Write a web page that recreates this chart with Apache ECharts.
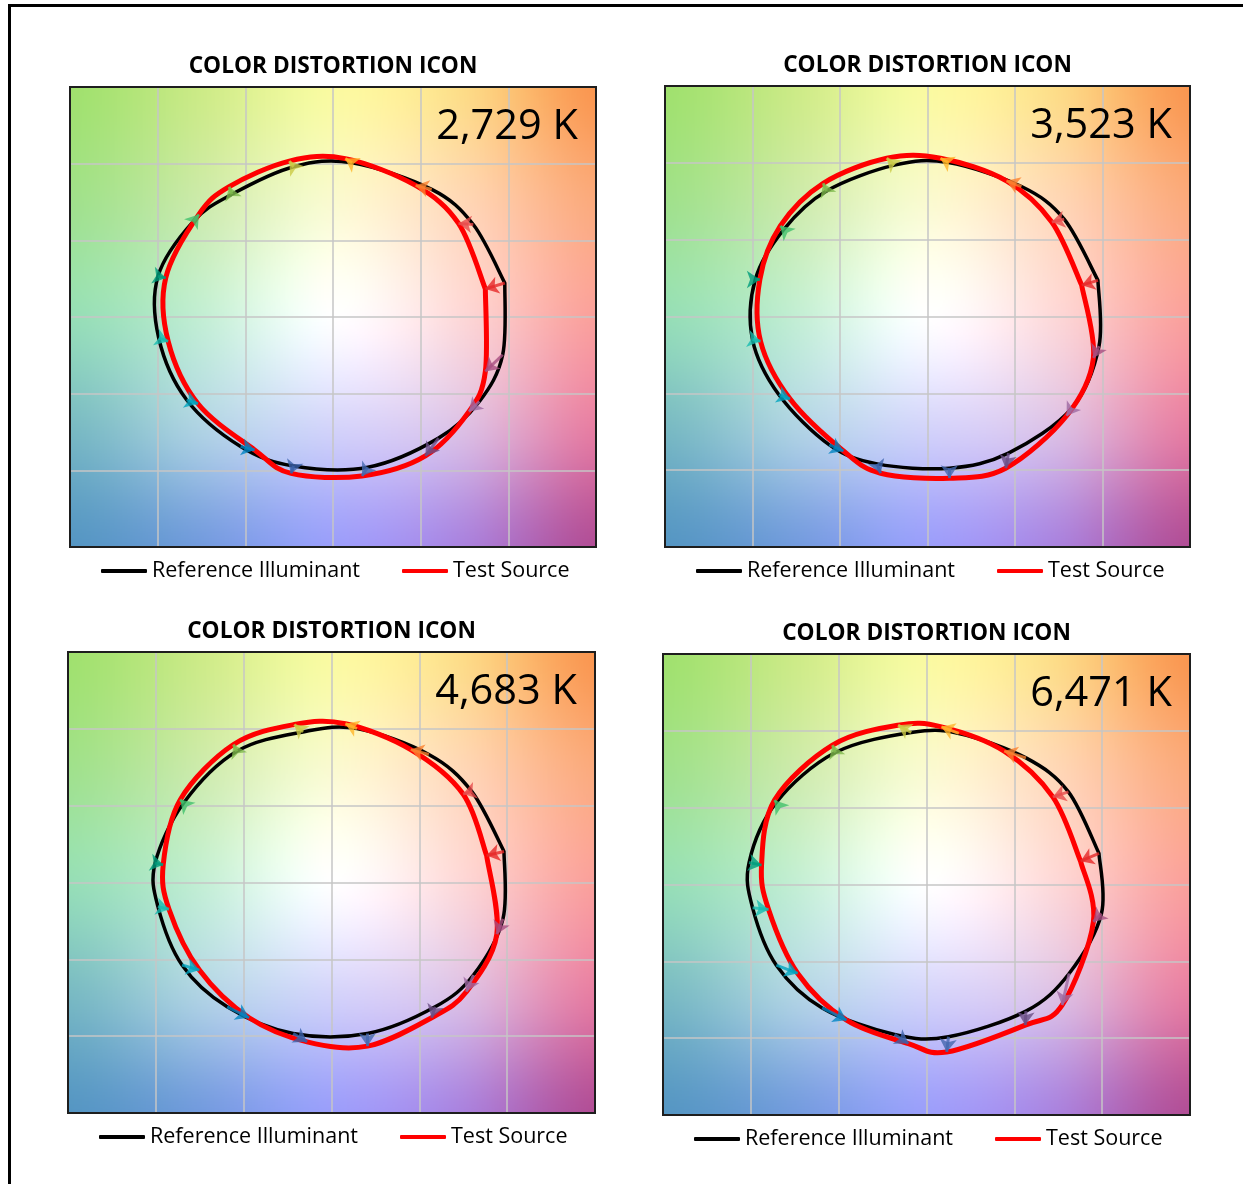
<!DOCTYPE html>
<html>
<head>
<meta charset="utf-8">
<title>Color Distortion Icons</title>
<script src="https://cdn.jsdelivr.net/npm/echarts@6/dist/echarts.min.js"></script>
<style>
  html, body { margin: 0; padding: 0; background: #ffffff; }
  #chart { width: 1243px; height: 1184px; }
</style>
</head>
<body>
<div id="chart"></div>
<script>
// Correlated colour temperature of each test source
const cctLabels = ['2,729 K', '3,523 K', '4,683 K', '6,471 K'];

// Colours of the 16 hue bins (bin 1 starts at hue angle 0, counter-clockwise)
const binColors = [
  '#e62828', '#e74b4b', '#fb812e', '#ffb529', '#cbca46', '#7eb94c', '#41c06d', '#009c7c',
  '#16bcb0', '#00a4bf', '#0085c3', '#3b62aa', '#4568ae', '#6a4e85', '#9d69a1', '#a74f81'
];

// Normalised average chromaticity (a', b') per hue bin, reference illuminant / test source
const ref2729 = [
  [0.980, 0.222], [0.800, 0.603], [0.563, 0.832], [0.109, 1.006], [-0.225, 0.980], [-0.577, 0.800],
  [-0.795, 0.625], [-0.998, 0.266], [-0.994, -0.137], [-0.835, -0.540], [-0.527, -0.845], [-0.225, -0.972],
  [0.199, -0.980], [0.602, -0.790], [0.835, -0.551], [0.968, -0.246]
];
const test2729 = [
  [0.869, 0.183], [0.716, 0.610], [0.471, 0.858], [0.070, 1.033], [-0.249, 1.017], [-0.592, 0.850],
  [-0.765, 0.669], [-0.954, 0.255], [-0.940, -0.159], [-0.770, -0.566], [-0.447, -0.867], [-0.239, -1.020],
  [0.165, -1.037], [0.527, -0.906], [0.775, -0.617], [0.869, -0.355]
];

const ref3523 = [
  [0.974, 0.235], [0.781, 0.633], [0.537, 0.846], [0.119, 1.002], [-0.189, 0.985], [-0.577, 0.817],
  [-0.821, 0.567], [-0.984, 0.241], [-1.000, -0.150], [-0.849, -0.509], [-0.561, -0.835], [-0.288, -0.959],
  [0.125, -0.987], [0.463, -0.889], [0.825, -0.596], [0.980, -0.193]
];
const test3523 = [
  [0.881, 0.204], [0.710, 0.615], [0.451, 0.883], [0.074, 1.030], [-0.233, 1.030], [-0.596, 0.867],
  [-0.841, 0.589], [-0.958, 0.241], [-0.954, -0.161], [-0.785, -0.537], [-0.480, -0.875], [-0.268, -1.020],
  [0.125, -1.052], [0.447, -0.987], [0.795, -0.646], [0.948, -0.270]
];

const ref4683 = [
  [0.982, 0.202], [0.798, 0.593], [0.554, 0.833], [0.145, 1.002], [-0.162, 0.980], [-0.539, 0.854],
  [-0.842, 0.517], [-1.004, 0.126], [-0.988, -0.157], [-0.851, -0.537], [-0.594, -0.809], [-0.218, -0.983],
  [0.204, -0.983], [0.590, -0.809], [0.808, -0.602], [0.976, -0.237]
];
const test4683 = [
  [0.883, 0.176], [0.749, 0.576], [0.451, 0.865], [0.079, 1.033], [-0.212, 1.028], [-0.558, 0.898],
  [-0.861, 0.539], [-0.958, 0.115], [-0.925, -0.174], [-0.752, -0.570], [-0.469, -0.880], [-0.139, -1.037],
  [0.205, -1.065], [0.570, -0.880], [0.768, -0.711], [0.941, -0.337]
];

const ref6471 = [
  [0.982, 0.202], [0.808, 0.603], [0.566, 0.824], [0.184, 0.983], [-0.087, 0.989], [-0.519, 0.859],
  [-0.855, 0.534], [-1.010, 0.143], [-0.990, -0.152], [-0.855, -0.525], [-0.594, -0.803], [-0.182, -0.976],
  [0.125, -0.991], [0.566, -0.824], [0.812, -0.579], [0.996, -0.189]
];
const test6471 = [
  [0.877, 0.152], [0.719, 0.570], [0.442, 0.868], [0.085, 1.026], [-0.162, 1.037], [-0.535, 0.907],
  [-0.865, 0.549], [-0.939, 0.126], [-0.899, -0.163], [-0.733, -0.579], [-0.455, -0.883], [-0.103, -1.035],
  [0.115, -1.090], [0.562, -0.915], [0.772, -0.785], [0.950, -0.243]
];

const panelRefs = [ref2729, ref3523, ref4683, ref6471];
const panelTests = [test2729, test3523, test4683, test6471];

// Plot rectangles of the four icons
const panelBoxes = [
  { left: 70, top: 87, width: 526, height: 460 },
  { left: 665, top: 86, width: 525, height: 461 },
  { left: 68, top: 652, width: 527, height: 461 },
  { left: 663, top: 654, width: 527, height: 461 }
];

// Hue backdrop: colour anchors on a 5x5 lattice (rows top to bottom, columns left to right)
const backdropAnchors = [
  [[160, 225, 110], [205, 235, 135], [250, 250, 160], [253, 220, 135], [250, 150, 80]],
  [[160, 225, 140], [205, 235, 172], [250, 250, 208], [255, 215, 182], [251, 170, 125]],
  [[150, 222, 182], [195, 238, 212], [255, 255, 255], [253, 215, 215], [250, 160, 155]],
  [[120, 185, 195], [175, 210, 228], [210, 210, 250], [220, 190, 228], [230, 125, 162]],
  [[85, 150, 195], [115, 155, 222], [155, 158, 250], [170, 130, 222], [178, 78, 150]]
];

function catmull(p0, p1, p2, p3, t) {
  return 0.5 * ((2 * p1) + (-p0 + p2) * t + (2 * p0 - 5 * p1 + 4 * p2 - p3) * t * t +
    (-p0 + 3 * p1 - 3 * p2 + p3) * t * t * t);
}

function buildBackdrop(size) {
  const cv = document.createElement('canvas');
  cv.width = size; cv.height = size;
  const ctx = cv.getContext('2d');
  const img = ctx.createImageData(size, size);
  const n = backdropAnchors.length;
  const at = (r, c, k) => backdropAnchors[Math.max(0, Math.min(n - 1, r))][Math.max(0, Math.min(n - 1, c))][k];
  for (let py = 0; py < size; py++) {
    const gy = py / (size - 1) * (n - 1);
    const r = Math.min(n - 2, Math.floor(gy));
    const ty = gy - r;
    for (let px = 0; px < size; px++) {
      const gx = px / (size - 1) * (n - 1);
      const c = Math.min(n - 2, Math.floor(gx));
      const tx = gx - c;
      const o = (py * size + px) * 4;
      for (let k = 0; k < 3; k++) {
        const rows = [];
        for (let j = -1; j <= 2; j++) {
          rows.push(catmull(at(r + j, c - 1, k), at(r + j, c, k), at(r + j, c + 1, k), at(r + j, c + 2, k), tx));
        }
        const v = catmull(rows[0], rows[1], rows[2], rows[3], ty);
        img.data[o + k] = Math.max(0, Math.min(255, Math.round(v)));
      }
      img.data[o + 3] = 255;
    }
  }
  ctx.putImageData(img, 0, 0);
  return cv;
}

const backdrop = buildBackdrop(320);
const closeLoop = pts => pts.concat([pts[0]]);

// Smoothed closed outline through the bin points (Catmull-Rom in screen space,
// open at the first/last point so the loop starts and ends at bin 1)
function loopRenderer(points, color, width) {
  return (params, api) => {
    if (params.dataIndex !== 0) return null;
    const px = closeLoop(points).map(p => api.coord(p));
    const n = px.length;
    const get = k => px[Math.max(0, Math.min(n - 1, k))];
    const f = v => v.toFixed(2);
    let d = 'M' + f(px[0][0]) + ' ' + f(px[0][1]);
    for (let k = 0; k < n - 1; k++) {
      const p0 = get(k - 1), p1 = get(k), p2 = get(k + 1), p3 = get(k + 2);
      const c1x = p1[0] + (p2[0] - p0[0]) / 6, c1y = p1[1] + (p2[1] - p0[1]) / 6;
      const c2x = p2[0] - (p3[0] - p1[0]) / 6, c2y = p2[1] - (p3[1] - p1[1]) / 6;
      d += ' C' + f(c1x) + ' ' + f(c1y) + ' ' + f(c2x) + ' ' + f(c2y) + ' ' + f(p2[0]) + ' ' + f(p2[1]);
    }
    return {
      type: 'path',
      shape: { pathData: d },
      style: { fill: null, stroke: color, lineWidth: width, lineJoin: 'round', lineCap: 'round' }
    };
  };
}

const chart = echarts.init(document.getElementById('chart'), null, { renderer: 'canvas' });

const grids = [], xAxes = [], yAxes = [], series = [], legends = [], texts = [];

panelBoxes.forEach((box, i) => {
  grids.push({
    left: box.left, top: box.top, width: box.width, height: box.height, z: 1,
    show: true, borderColor: '#1e1e1e', borderWidth: 2, backgroundColor: 'transparent'
  });
  const axisBase = {
    gridIndex: i, type: 'value', min: -1.5, max: 1.5, interval: 0.5,
    axisLine: { show: false }, axisTick: { show: false }, axisLabel: { show: false },
    splitLine: { show: true, lineStyle: { color: '#c6c6c6', width: 1.5 } }
  };
  xAxes.push(Object.assign({}, axisBase));
  yAxes.push(Object.assign({}, axisBase));

  series.push({
    type: 'custom', xAxisIndex: i, yAxisIndex: i, z: -1, silent: true,
    data: [[0, 0]],
    renderItem: (params, api) => {
      const a = api.coord([-1.5, 1.5]);
      const b = api.coord([1.5, -1.5]);
      return { type: 'image', style: { image: backdrop, x: a[0], y: a[1], width: b[0] - a[0], height: b[1] - a[1] } };
    }
  });
  series.push({
    type: 'custom', name: 'Reference Illuminant', xAxisIndex: i, yAxisIndex: i, z: 3, silent: true,
    data: panelRefs[i], encode: { x: 0, y: 1 },
    itemStyle: { color: '#000000' },
    renderItem: loopRenderer(panelRefs[i], '#000000', 3.5)
  });
  series.push({
    type: 'custom', name: 'Test Source', xAxisIndex: i, yAxisIndex: i, z: 4, silent: true,
    data: panelTests[i], encode: { x: 0, y: 1 },
    itemStyle: { color: '#ff0000' },
    renderItem: loopRenderer(panelTests[i], '#ff0000', 5)
  });
  series.push({
    type: 'lines', coordinateSystem: 'cartesian2d', xAxisIndex: i, yAxisIndex: i, z: 5, silent: true,
    symbol: ['none', 'arrow'], symbolSize: 13,
    data: panelRefs[i].map((p, k) => ({
      coords: [p, panelTests[i][k]],
      lineStyle: { color: binColors[k], width: 3, opacity: 0.8 }
    }))
  });

  legends.push({
    left: box.left + 31, top: box.top + box.height + 13,
    padding: 0, itemWidth: 46, itemHeight: 4, itemGap: 42, icon: 'roundRect',
    textStyle: { fontFamily: 'Open Sans', fontSize: 21.5, color: '#000000' },
    data: ['Reference Illuminant', 'Test Source']
  });

  texts.push({
    type: 'text', x: box.left + box.width / 2, y: box.top - 20, z: 10,
    style: { text: 'COLOR DISTORTION ICON', font: 'bold 22.7px "Open Sans"', fill: '#000000', align: 'center', verticalAlign: 'middle' }
  });
  texts.push({
    type: 'text', x: box.left + box.width - 18, y: box.top + 40, z: 10,
    style: { text: cctLabels[i], font: '41.5px "Open Sans"', fill: '#000000', align: 'right', verticalAlign: 'middle' }
  });
});

// Outer frame around the figure
texts.push({
  type: 'rect', z: 20, silent: true,
  shape: { x: 9.5, y: 5.5, width: 1400, height: 1400 },
  style: { fill: 'none', stroke: '#000000', lineWidth: 3 }
});

chart.setOption({
  animation: false,
  backgroundColor: '#ffffff',
  grid: grids,
  xAxis: xAxes,
  yAxis: yAxes,
  legend: legends,
  graphic: texts,
  series: series
});
</script>
</body>
</html>
